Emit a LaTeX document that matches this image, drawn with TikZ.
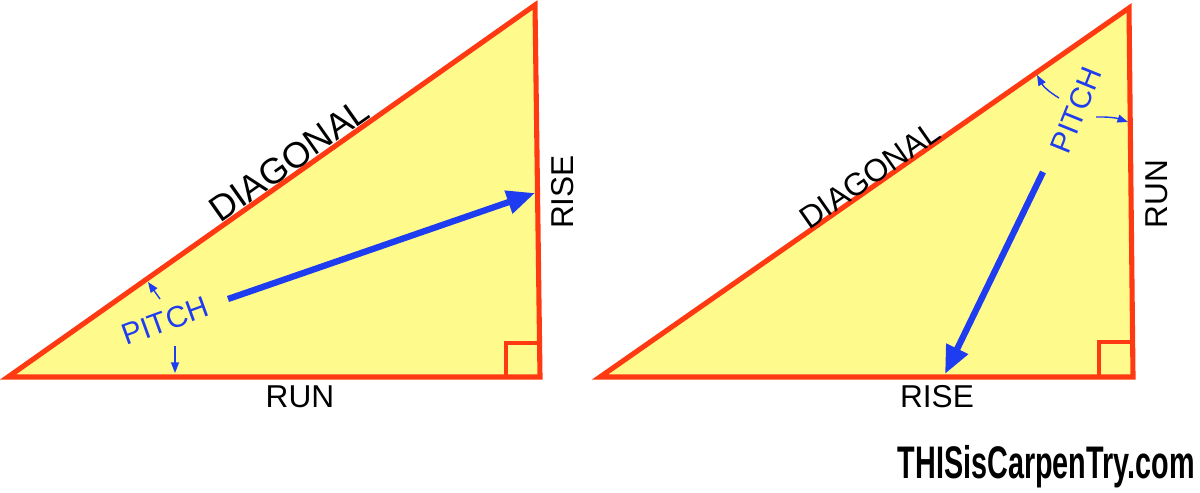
\documentclass[tikz,border=0pt]{standalone}
\usepackage{fontspec}
\setmainfont{Liberation Sans}
\usetikzlibrary{arrows.meta}
\definecolor{tri}{HTML}{FF3A12}
\definecolor{fillc}{HTML}{FFFA8C}
\definecolor{arr}{HTML}{1E3CF0}
\tikzset{
  triedge/.style={draw=tri, line width=2.9pt, fill=fillc, line join=miter},
  sq/.style={draw=tri, line width=2.6pt},
  bigarrow/.style={draw=arr, line width=3.6pt, -{Triangle[length=16pt,width=13pt]}},
  smallarrow/.style={draw=arr, line width=0.8pt, -{Triangle[length=6pt,width=4.5pt]}},
  lab/.style={font=\fontsize{18}{18}\selectfont, text=black, inner sep=0pt},
  pitchlab/.style={font=\fontsize{17}{17}\selectfont, text=arr, inner sep=0pt},
}
\begin{document}
\begin{tikzpicture}[x=0.02cm,y=-0.02cm]
\useasboundingbox (0,0) rectangle (1200,493);
% left triangle
\coordinate (LA) at (8,377);
\coordinate (LB) at (535,5);
\coordinate (LC) at (540,377);
\path[triedge] (LA) -- (LB) -- (LC) -- cycle;
\draw[sq] (540,343) -- (506,343) -- (506,377);
\coordinate (LS) at (228,299);
\coordinate (LE) at (535,193);
\draw[bigarrow] (LS) -- (LE);
\node[lab, rotate=35.2, font=\fontsize{20.5}{20}\selectfont] (ldiag) at (289,160) {DIAGONAL};
\node[lab, rotate=90] (lrise) at (563,192) {RISE};
\node[lab] (lrun) at (300,397) {RUN};
\node[pitchlab, rotate=20] (lpitch) at (165,321) {PITCH};
\coordinate (lq1) at (160,299);
\coordinate (lp1) at (148,282);
\coordinate (lq2) at (175,346);
\coordinate (lp2) at (175,373);
\draw[smallarrow] (lq1) -- (lp1);
\draw[smallarrow] (lq2) -- (lp2);
% right triangle
\coordinate (RA) at (600,377);
\coordinate (RB) at (1129,8);
\coordinate (RC) at (1133,377);
\path[triedge] (RA) -- (RB) -- (RC) -- cycle;
\draw[sq] (1133,342) -- (1099,342) -- (1099,377);
\coordinate (RS) at (1043,172);
\coordinate (RE) at (945,374);
\draw[bigarrow] (RS) -- (RE);
\node[lab, rotate=34.9] (rdiag) at (870,175) {DIAGONAL};
\node[lab, rotate=90] (rrun) at (1157,194) {RUN};
\node[lab] (rrise) at (937,397) {RISE};
\node[pitchlab, rotate=68] (rpitch) at (1076,110) {PITCH};
\coordinate (rq1) at (1059,98);
\coordinate (rp1) at (1037,75);
\coordinate (rq2) at (1096,117);
\coordinate (rp2) at (1128,122);
\draw[smallarrow] (rq1) to[bend left=15] (rp1);
\draw[smallarrow] (rq2) to[bend left=10] (rp2);
% logo
\node[inner sep=0pt, anchor=east, xscale=0.63] (logo) at (1195,467)
  {\fontsize{26}{26}\selectfont\bfseries THISisCarpenTry.com};
\end{tikzpicture}
\end{document}
